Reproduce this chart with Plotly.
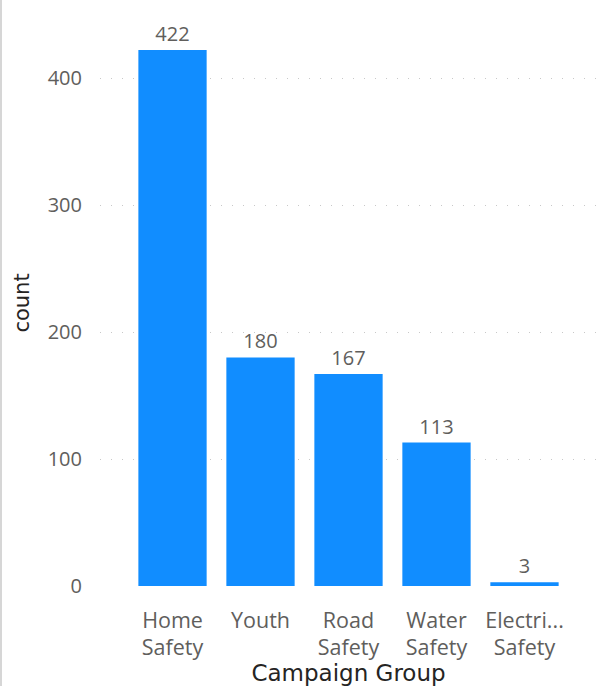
import plotly.graph_objects as go

categories = ["Home<br>Safety", "Youth", "Road<br>Safety", "Water<br>Safety", "Electri...<br>Safety"]
counts = [422, 180, 167, 113, 3]
y_ticks = [0, 100, 200, 300, 400]

W, H = 597, 686
L, R, T, B = 100, 0, 20, 100

fig = go.Figure(go.Bar(
    x=categories, y=counts,
    marker=dict(color="#118DFF", line=dict(width=0)),
    text=[str(c) for c in counts], textposition="outside",
    textfont=dict(family="Open Sans, Noto Sans", size=20, color="#605E5C"),
    cliponaxis=False,
    width=0.776,
))

fig.update_layout(
    width=W, height=H,
    margin=dict(l=L, r=R, t=T, b=B),
    plot_bgcolor="white", paper_bgcolor="white",
    showlegend=False,
    font=dict(family="Open Sans, Noto Sans", color="#605E5C"),
    xaxis=dict(
        range=[-0.824, 4.824],
        showgrid=False, zeroline=False, showline=False, ticks="",
        tickfont=dict(size=21.5, color="#605E5C"),
        ticklabelstandoff=19,
        title=dict(text="Campaign Group", standoff=1,
                   font=dict(family="DejaVu Sans", size=23, color="#252423")),
    ),
    yaxis=dict(
        range=[0, 445.7],
        tickvals=y_ticks,
        showgrid=True, gridcolor="#C8C8C8", gridwidth=1, griddash="1px,10px",
        zeroline=False, showline=False, ticks="",
        tickfont=dict(size=20, color="#605E5C"),
        ticklabelstandoff=17,
        title=dict(text="count", standoff=12,
                   font=dict(family="DejaVu Sans", size=21, color="#252423")),
    ),
    shapes=[dict(type="line", xref="paper", yref="paper",
                 x0=(1 - L) / (W - L - R), x1=(1 - L) / (W - L - R),
                 y0=-B / (H - T - B), y1=(H - B) / (H - T - B),
                 line=dict(color="#C8C8C8", width=1.5))],
)

fig.write_html("out.html", config={"displayModeBar": False},
               post_script="document.body.style.margin='0';")
